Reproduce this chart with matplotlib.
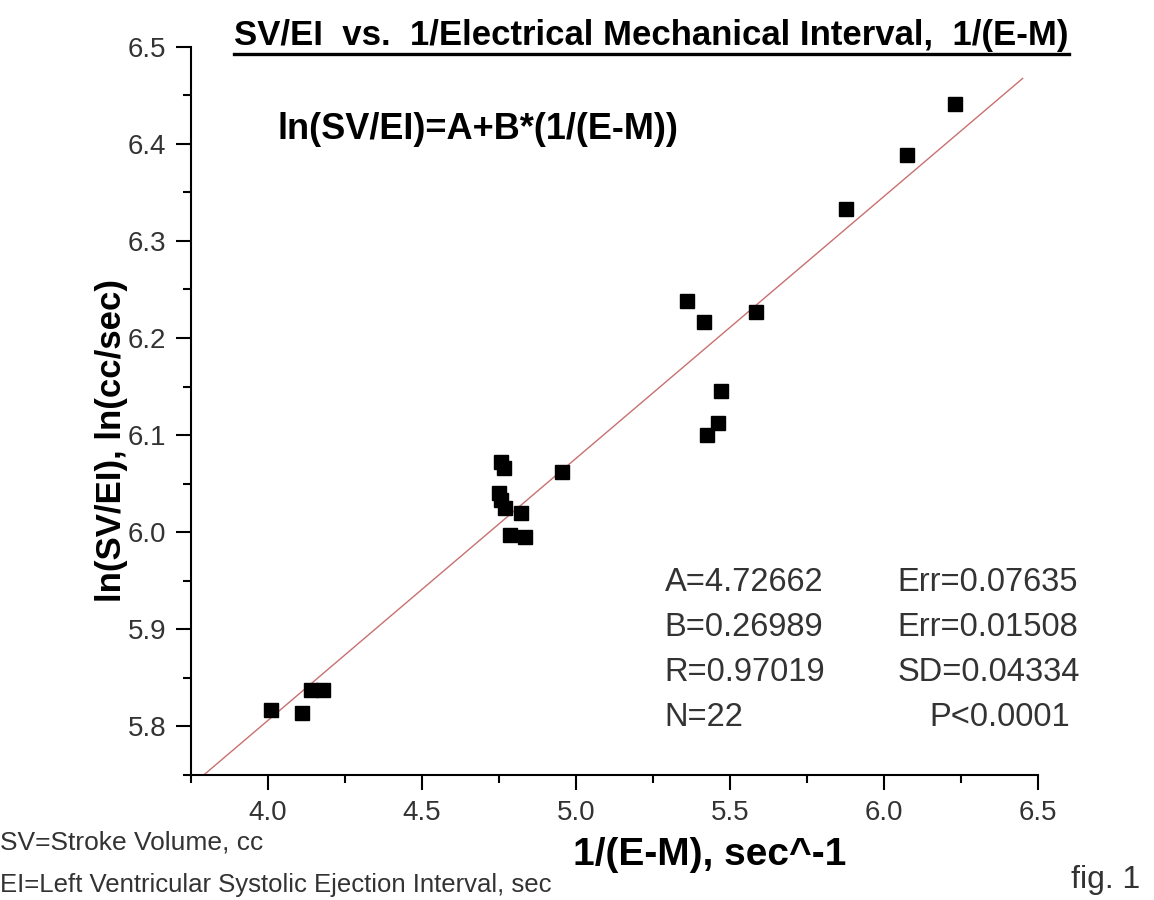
import matplotlib
matplotlib.use('Agg')
import matplotlib.pyplot as plt
from matplotlib.ticker import MultipleLocator
from matplotlib.lines import Line2D
import numpy as np

plt.rcParams['font.family'] = ['Liberation Sans', 'DejaVu Sans']

# data: 1/(E-M) vs ln(SV/EI)
inv_em = [4.01, 4.11, 4.14, 4.18,
          4.755, 4.765, 4.75, 4.755, 4.77, 4.82, 4.785, 4.835, 4.955,
          5.36, 5.415, 5.585, 5.47, 5.46, 5.425,
          5.875, 6.075, 6.23]
ln_sv_ei = [5.817, 5.814, 5.837, 5.837,
            6.072, 6.066, 6.040, 6.033, 6.025, 6.020, 5.997, 5.995, 6.062,
            6.238, 6.217, 6.227, 6.145, 6.112, 6.100,
            6.333, 6.389, 6.441]

# fit parameters printed on the chart
fit_A = 4.72662
fit_B = 0.26989
fit_x = [3.75, 6.45]
stats_left = ['A=4.72662', 'B=0.26989', 'R=0.97019', 'N=22']
stats_right = ['Err=0.07635', 'Err=0.01508', 'SD=0.04334', 'P<0.0001']

fig = plt.figure(figsize=(11.54, 9), dpi=100)
ax = fig.add_axes([0.1655, 0.139, 0.734, 0.809])

fx = np.array(fit_x)
ax.plot(fx, fit_A + fit_B * fx, color='#c87070', lw=1.0, zorder=1)
ax.plot(inv_em, ln_sv_ei, 's', color='black', ms=10.5, zorder=2)

ax.set_xlim(3.75, 6.5)
ax.set_ylim(5.75, 6.5)
ax.xaxis.set_minor_locator(MultipleLocator(0.25))
ax.yaxis.set_minor_locator(MultipleLocator(0.05))
ax.set_xticks([4.0, 4.5, 5.0, 5.5, 6.0, 6.5])
ax.set_xticklabels(['4.0', '4.5', '5.0', '5.5', '6.0', '6.5'], fontsize=20)
ax.set_yticks([5.8, 5.9, 6.0, 6.1, 6.2, 6.3, 6.4, 6.5])
ax.set_yticklabels(['5.8', '5.9', '6.0', '6.1', '6.2', '6.3', '6.4', '6.5'], fontsize=20)

for s in ['top', 'right']:
    ax.spines[s].set_visible(False)
for s in ['left', 'bottom']:
    ax.spines[s].set_linewidth(1.5)
ax.tick_params(which='major', direction='out', length=11, width=1.5,
               labelcolor='#333333', pad=7)
ax.tick_params(which='minor', direction='out', length=6, width=1.5)

# axis labels placed where the original has them
fig.text(0.615, 0.05, '1/(E-M), sec^-1', fontsize=28, fontweight='bold',
         ha='center', va='center')
fig.text(0.097, 0.511, 'ln(SV/EI), ln(cc/sec)', fontsize=25, fontweight='bold',
         rotation=90, ha='center', va='center')

title = fig.text(0.203, 0.95, 'SV/EI  vs.  1/Electrical Mechanical Interval,  1/(E-M)',
                 fontsize=25, fontweight='bold', ha='left', va='baseline')

ax.text(0.102, 0.886, 'ln(SV/EI)=A+B*(1/(E-M))', transform=ax.transAxes,
        fontsize=26, fontweight='bold', ha='left', va='center')

for i, (l, r) in enumerate(zip(stats_left, stats_right)):
    yy = 0.264 - i * 0.0615
    ax.text(0.559, yy, l, transform=ax.transAxes, fontsize=23.5, color='#333333',
            ha='left', va='center')
    rx = 0.872 if r.startswith('P') else 0.834
    ax.text(rx, yy, r, transform=ax.transAxes, fontsize=23.5, color='#333333',
            ha='left', va='center')

fig.text(0.0, 0.064, 'SV=Stroke Volume, cc', fontsize=19, color='#333333',
         ha='left', va='center')
fig.text(0.0, 0.017, 'EI=Left Ventricular Systolic Ejection Interval, sec',
         fontsize=18.5, color='#333333', ha='left', va='center')
fig.text(0.988, 0.022, 'fig. 1', fontsize=23, color='#333333', ha='right', va='center')

# underline the title
fig.canvas.draw()
bb = title.get_window_extent().transformed(fig.transFigure.inverted())
fig.add_artist(Line2D([bb.x0, bb.x1], [bb.y0 - 0.002, bb.y0 - 0.002],
                      transform=fig.transFigure, color='black', lw=2.4))

fig.savefig('out.png', dpi=100)
